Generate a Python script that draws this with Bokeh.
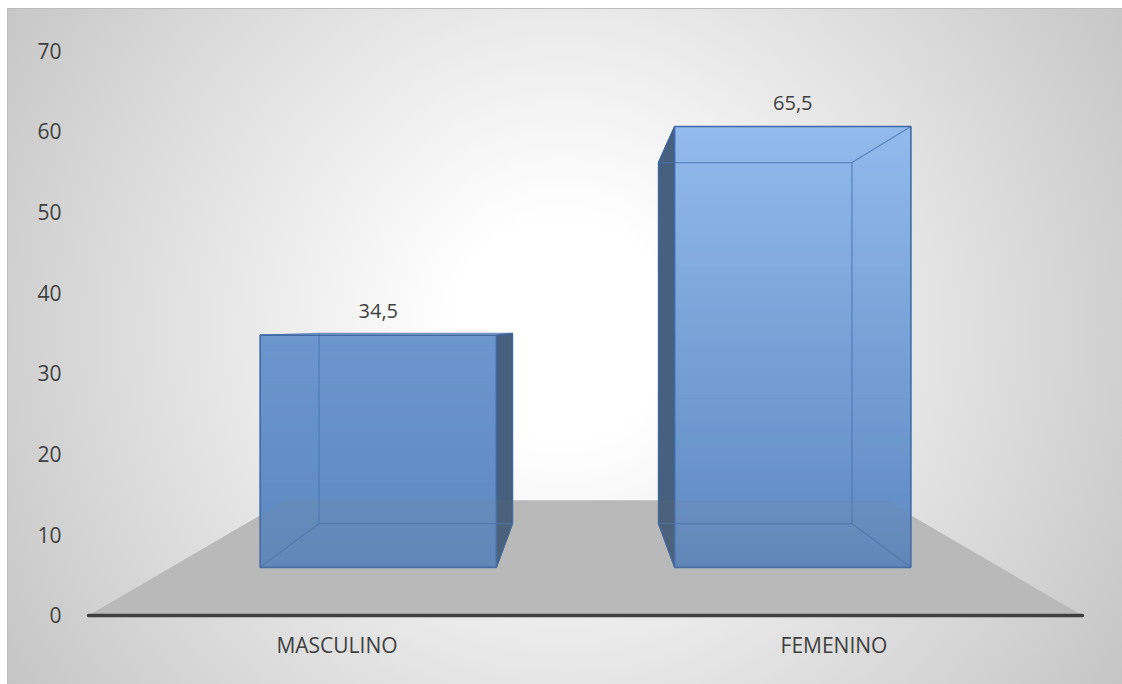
from bokeh.plotting import figure
from bokeh.models import Range1d, FixedTicker, ColumnDataSource
from bokeh.core.properties import value
from bokeh.embed import file_html
from bokeh.resources import INLINE

# ---- data ----
categories = ["MASCULINO", "FEMENINO"]
values = [34.5, 65.5]
value_labels = ["34,5", "65,5"]
y_ticks = [0, 10, 20, 30, 40, 50, 60, 70]

# ---- perspective setup (in axis units) ----
VX, VY = 1.0, 35.94          # vanishing point
S_FLOOR_BACK = 0.603
S_BAR_FRONT = 0.834
S_BAR_BACK = 0.683
HALF_W = 0.285
N_CAT = len(categories)


def proj(X, Y, s):
    return VX + s * (X - VX), VY + s * (Y - VY)


def hex2rgb(h):
    h = h.lstrip("#")
    return tuple(int(h[i:i + 2], 16) for i in (0, 2, 4))


def rgb2hex(c):
    return "#%02x%02x%02x" % tuple(int(round(v)) for v in c)


def lerp(a, b, t):
    return tuple(a[k] + (b[k] - a[k]) * t for k in range(3))


C_BOT = hex2rgb("#5d88c0")
C_LIGHT = hex2rgb("#92baed")

W, H = 1122, 684
p = figure(width=W, height=H, output_backend="svg", toolbar_location=None,
           x_range=Range1d(-0.0262, 2.0805), y_range=Range1d(-0.62, 75.22),
           min_border_left=75, min_border_right=0, min_border_top=8,
           min_border_bottom=64)
p.background_fill_color = None
p.border_fill_color = None
p.outline_line_color = None
p.grid.visible = False
p.styles = {
    "background": (
        "linear-gradient(#bdbdbd,#bdbdbd) 7px 8px / 100% 1px no-repeat, "
        "linear-gradient(#bdbdbd,#bdbdbd) 7px 8px / 1px 100% no-repeat, "
        "linear-gradient(#ffffff,#ffffff) 0px 0px / 100% 8px no-repeat, "
        "linear-gradient(#ffffff,#ffffff) 0px 0px / 7px 100% no-repeat, "
        "radial-gradient(circle at 563px 330px, #ffffff 0px, #ffffff 110px, #c5c5c5 660px)"
    ),
}

# floor
fl = [proj(0, 0, 1.0), proj(N_CAT, 0, 1.0), proj(N_CAT, 0, S_FLOOR_BACK), proj(0, 0, S_FLOOR_BACK)]
floor_x = [c[0] for c in fl]
floor_y = [c[1] for c in fl]
p.patch(floor_x, floor_y, fill_color="#c1c1c1", line_color=None)

vmax = max(values)
lab_x, lab_y = [], []
for i, v in enumerate(values):
    xc = i + 0.5
    fxl, fyb = proj(xc - HALF_W, 0, S_BAR_FRONT)
    fxr, fyt = proj(xc + HALF_W, v, S_BAR_FRONT)
    bxl, byb = proj(xc - HALF_W, 0, S_BAR_BACK)
    bxr, byt = proj(xc + HALF_W, v, S_BAR_BACK)

    # visible dark side
    if xc < VX:
        sx = [fxr, bxr, bxr, fxr]
    else:
        sx = [fxl, bxl, bxl, fxl]
    sy = [fyt, byt, byb, fyb]
    p.patch(sx, sy, fill_color="#3d5778", fill_alpha=0.95,
            line_color="#2f4e78", line_width=1.2)

    # front face with vertical gradient
    top_c = lerp(C_BOT, C_LIGHT, (v / vmax) ** 2)
    n = 60
    lefts, rights, tops, bottoms, cols = [], [], [], [], []
    for k in range(n):
        y0 = fyb + (fyt - fyb) * k / n
        y1 = fyb + (fyt - fyb) * (k + 1) / n
        t = (k + 0.5) / n
        lefts.append(fxl)
        rights.append(fxr)
        bottoms.append(y0)
        tops.append(y1 + (fyt - fyb) / n * 0.6 if k < n - 1 else y1)
        cols.append(rgb2hex(lerp(C_BOT, top_c, t)))
    p.quad(left=lefts, right=rights, top=tops, bottom=bottoms,
           fill_color=cols, line_color=None)

    # inner (back) edges visible through the front
    edge_xs = [[bxl, bxr, bxr, bxl, bxl],
               [fxl, bxl], [fxr, bxr], [fxl, bxl], [fxr, bxr]]
    edge_ys = [[byb, byb, byt, byt, byb],
               [fyb, byb], [fyb, byb], [fyt, byt], [fyt, byt]]
    p.multi_line(edge_xs, edge_ys, line_color="#4673b0", line_alpha=0.75,
                 line_width=1.2)

    # front outline
    p.quad(left=[fxl], right=[fxr], top=[fyt], bottom=[fyb],
           fill_color=None, line_color="#3f6aa6", line_width=1.6)

    lab_x.append((fxl + fxr) / 2)
    lab_y.append(fyt)

# faint floor overlay (floor edge seen through the transparent bars)
p.patch(floor_x, floor_y, fill_color="#808080", fill_alpha=0.12, line_color=None)

# base line
p.line([0, N_CAT], [0, 0], line_color="#404040", line_width=3.5, line_cap="round")

# value labels
src = ColumnDataSource(dict(x=lab_x, y=lab_y, t=value_labels))
p.text(x="x", y="y", text="t", source=src, text_align="center",
       text_baseline="middle", y_offset=-24, text_font=value("Open Sans"),
       text_font_size="20px", text_color="#404040")

# axes
cat_pos = [i + 0.5 for i in range(N_CAT)]
p.xaxis.ticker = FixedTicker(ticks=cat_pos)
p.xaxis.major_label_overrides = {pos: name for pos, name in zip(cat_pos, categories)}
p.yaxis.ticker = FixedTicker(ticks=y_ticks)
for ax in (p.xaxis, p.yaxis):
    ax.axis_line_color = None
    ax.major_tick_line_color = None
    ax.minor_tick_line_color = None
    ax.major_label_text_font = "Open Sans"
    ax.major_label_text_font_size = "21px"
    ax.major_label_text_color = "#404040"
p.xaxis.major_label_standoff = 4
p.yaxis.major_label_standoff = 8

open("out.html", "w").write(file_html(p, INLINE))
